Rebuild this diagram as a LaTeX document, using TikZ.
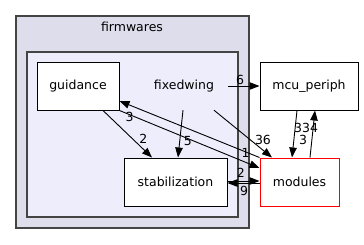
\documentclass[tikz,border=0pt]{standalone}
\usepackage{fontspec}
\setmainfont{DejaVu Sans}
\usetikzlibrary{arrows.meta}

\definecolor{outerdir}{HTML}{DDDDEB}
\definecolor{innerdir}{HTML}{EDEDFC}
\definecolor{dirframe}{HTML}{444444}

\begin{document}
\begin{tikzpicture}[x=1pt,y=-1pt]
	\tikzset{
		dir/.style={draw=black,fill=white,line width=1pt,inner sep=0pt,minimum height=48pt,font=\fontsize{12.5}{14}\selectfont},
		dep/.style={line width=0.9pt,-{Triangle[length=10pt,width=7.5pt]}},
		num/.style={inner sep=0pt,font=\fontsize{12.5}{14}\selectfont}
	}
	\useasboundingbox (0,0) rectangle (364,244);
	% the two nested directories
	\draw[fill=outerdir,draw=dirframe,line width=1.3pt] (16,16) rectangle (249,228);
	\node[num] (firmwares) at (132,27) {firmwares};
	\draw[fill=innerdir,draw=dirframe,line width=1.3pt] (27,52) rectangle (238,217);
	\node[num,minimum width=88pt,minimum height=48pt] (fixedwing) at (184,86) {fixedwing};
	\node[dir,minimum width=82pt] (guidance) at (78,86) {guidance};
	\node[dir,minimum width=103pt] (stab) at (175.5,182) {stabilization};
	\node[dir,minimum width=98pt] (mcu) at (309,86) {mcu\_periph};
	\node[dir,draw=red,minimum width=79pt] (modules) at (299.5,182) {modules};
	% dependencies
	\draw[dep] (fixedwing.east) -- (mcu.west) node[num,pos=0.38,shift={(0,-6)}] {6};
	\draw[dep] ([xshift=-1pt]fixedwing.south) -- ([xshift=2.5pt]stab.north) node[num,pos=0.65,shift={(8,0)}] {5};
	\draw[dep] ([xshift=30pt]fixedwing.south) -- ([xshift=-27.5pt]modules.north) node[num,pos=0.62,shift={(13,0)}] {36};
	\draw[dep] ([xshift=25pt]guidance.south) -- ([xshift=-23.5pt]stab.north) node[num,pos=0.6,shift={(11,0)}] {2};
	\draw[dep] (guidance.south east) -- ([yshift=14pt]modules.west) node[num,pos=0.85,shift={(7,-6.5)}] {1};
	\draw[dep] (modules.north west) -- ([yshift=-15pt]guidance.east) node[num,pos=0.9,shift={(-4,10)}] {3};
	\draw[dep] ([yshift=1pt]stab.east) -- ([yshift=1pt]modules.west) node[num,pos=0.42,shift={(0,-8)}] {2};
	\draw[dep] ([yshift=-1pt]modules.west) -- ([yshift=-1pt]stab.east) node[num,pos=0.48,shift={(0,7.5)}] {9};
	\draw[dep] ([xshift=-12pt]mcu.south) -- ([xshift=-7.5pt]modules.north) node[num,pos=0.6,shift={(9,1)}] {3};
	\draw[dep] ([xshift=10.5pt]modules.north) -- ([xshift=6pt]mcu.south) node[num,pos=0.62,shift={(-7,-0.5)}] {334};
\end{tikzpicture}
\end{document}
